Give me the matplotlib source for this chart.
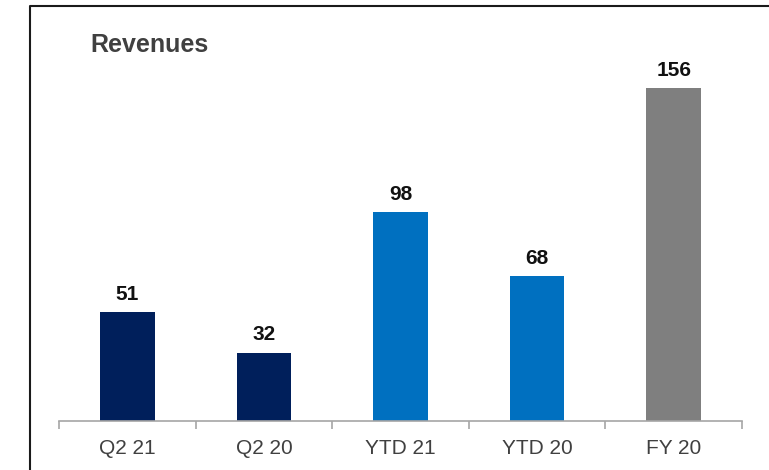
import matplotlib
matplotlib.use("Agg")
import matplotlib.pyplot as plt
from matplotlib.lines import Line2D

categories = ["Q2 21", "Q2 20", "YTD 21", "YTD 20", "FY 20"]
revenues = [51, 32, 98, 68, 156]
bar_colors = ["#001F5B", "#001F5B", "#0070C0", "#0070C0", "#7F7F7F"]

plt.rcParams["font.family"] = ["Liberation Sans", "DejaVu Sans"]

W, H = 769, 470
fig = plt.figure(figsize=(W / 100, H / 100), dpi=100)
fig.patch.set_facecolor("white")

# axes placed in pixel terms: baseline at y=421, categories span x=59..742
ax = fig.add_axes([59 / W, 49 / H, (742 - 59) / W, (421 - 37) / H])
x = list(range(len(categories)))
ax.bar(x, revenues, width=0.4, color=bar_colors)
ax.set_xlim(-0.5, len(categories) - 0.5)
ax.set_ylim(0, 180)

for xi, v in zip(x, revenues):
	ax.annotate(str(v), (xi, v), xytext=(0, 6), textcoords="offset points",
		ha="center", va="bottom", fontsize=15, fontweight="bold", color="#111111")

for side in ["top", "right", "left"]:
	ax.spines[side].set_visible(False)
ax.spines["bottom"].set_color("#A6A6A6")
ax.spines["bottom"].set_linewidth(1.2)
ax.set_yticks([])

ax.set_xticks([i - 0.5 for i in range(len(categories) + 1)], minor=False)
ax.set_xticklabels([""] * (len(categories) + 1))
ax.tick_params(axis="x", which="major", length=6, width=1.2, color="#A6A6A6", direction="out")
ax.set_xticks(x, minor=True)
ax.set_xticklabels(categories, minor=True)
ax.tick_params(axis="x", which="minor", length=0, pad=13, labelsize=15, labelcolor="#404040")

fig.text(90 / W, 1 - 45 / H, "Revenues", ha="left", va="center",
	fontsize=18, fontweight="bold", color="#404040")

# outer frame: left and top edges only
fig.add_artist(Line2D([30 / W, 30 / W, 1.0], [0.0, 1 - 6 / H, 1 - 6 / H],
	transform=fig.transFigure, color="#1A1A1A", linewidth=1.5))

fig.savefig("out.png", dpi=100)
